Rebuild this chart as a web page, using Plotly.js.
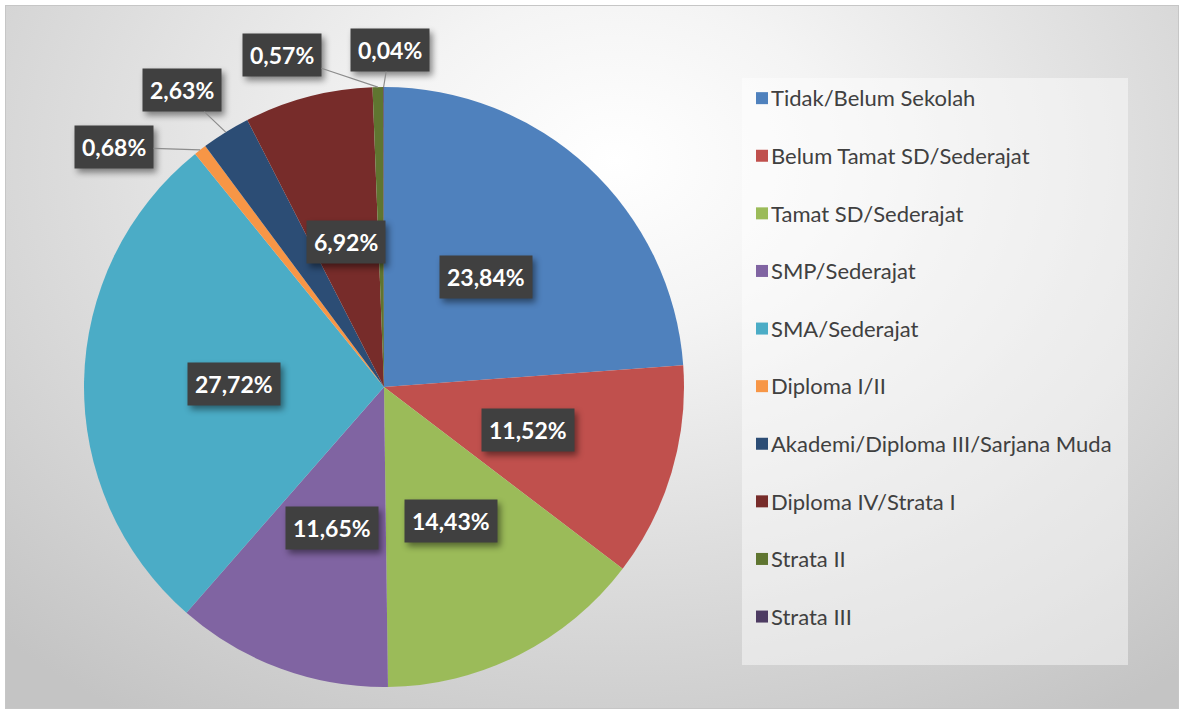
<!DOCTYPE html>
<html>
<head>
<meta charset="utf-8">
<script src="https://cdn.plot.ly/plotly-3.0.1.min.js"></script>
<style>
  body { margin: 0; background: #ffffff; }
  #wrap { position: relative; width: 1180px; height: 709px; overflow: hidden; background: #ffffff; }
  #bg {
    position: absolute; left: 5px; top: 5px; width: 1172px; height: 702px;
    border: 1px solid #c6c6c6;
    background: radial-gradient(ellipse 75% 95% at 52% 22%, #ffffff 0%, #f4f4f4 25%, #dcdcdc 62%, #c4c4c4 100%);
  }
  #chart { position: absolute; left: 0; top: 0; width: 1180px; height: 709px; }
  .annotation rect.bg { filter: drop-shadow(3px 4px 3px rgba(0,0,0,0.45)); }
  .legend .legendtext { transform: translateX(-11px); }
</style>
</head>
<body>
<div id="wrap"><div id="bg"></div><div id="chart"></div></div>
<script>
// ---- data ----
const categories = [
  "Tidak/Belum Sekolah",
  "Belum Tamat SD/Sederajat",
  "Tamat SD/Sederajat",
  "SMP/Sederajat",
  "SMA/Sederajat",
  "Diploma I/II",
  "Akademi/Diploma III/Sarjana Muda",
  "Diploma IV/Strata I",
  "Strata II",
  "Strata III"
];
const percentages = [23.84, 11.52, 14.43, 11.65, 27.72, 0.68, 2.63, 6.92, 0.57, 0.04];

// ---- styles ----
const sliceColors = ["#4F81BD", "#C0504D", "#9BBB59", "#8064A2", "#4BACC6",
                     "#F79646", "#2C4D75", "#772C2A", "#5F7530", "#4D3B62"];
// label box offsets (pixels) for small slices whose labels sit outside the pie
const outsideOffsets = { 5: [-86, -3], 6: [-44, -42], 8: [-96, -32], 9: [6, -37] };

const W = 1180, H = 709;
const CX = 384, CY = 387, R = 300;

const total = percentages.reduce((a, b) => a + b, 0);
const fmt = v => v.toFixed(2).replace('.', ',') + '%';

const annotations = [];
let cum = 0;
percentages.forEach((v, i) => {
  const mid = (cum + v / 2) / total * 2 * Math.PI;
  cum += v;
  const sx = Math.sin(mid), cy = Math.cos(mid);
  const base = {
    xref: 'paper', yref: 'paper',
    text: '<b>' + fmt(v) + '</b>',
    font: { family: 'Lato, sans-serif', size: 23, color: '#ffffff' },
    bgcolor: '#404040',
    borderpad: 7,
    xanchor: 'center', yanchor: 'middle'
  };
  if (outsideOffsets[i]) {
    annotations.push(Object.assign(base, {
      x: (CX + R * sx) / W, y: 1 - (CY - R * cy) / H,
      showarrow: true, arrowhead: 0, arrowwidth: 1.2, arrowcolor: '#8c8c8c', standoff: 0,
      ax: outsideOffsets[i][0], ay: outsideOffsets[i][1]
    }));
  } else {
    annotations.push(Object.assign(base, {
      x: (CX + 0.5 * R * sx) / W, y: 1 - (CY - 0.5 * R * cy) / H,
      showarrow: false
    }));
  }
});

const trace = {
  type: 'pie',
  labels: categories.map(c => '<span style="font-size:22px">' + c + '</span><br> '),
  values: percentages,
  sort: false,
  direction: 'clockwise',
  rotation: 0,
  textinfo: 'none',
  hoverinfo: 'label+percent',
  marker: { colors: sliceColors, line: { width: 0 } },
  domain: { x: [(CX - R) / W, (CX + R) / W], y: [1 - (CY + R) / H, 1 - (CY - R) / H] }
};

const layout = {
  width: W, height: H,
  margin: { l: 0, r: 0, t: 0, b: 0 },
  paper_bgcolor: 'rgba(0,0,0,0)',
  plot_bgcolor: 'rgba(0,0,0,0)',
  showlegend: true,
  legend: {
    x: 742 / W, y: 1 - 78 / H, xanchor: 'left', yanchor: 'top',
    bgcolor: 'rgba(255,255,255,0.45)', borderwidth: 0,
    font: { family: 'Lato, sans-serif', size: 21, color: '#404040' },
    valign: 'top'
  },
  annotations: annotations
};

Plotly.newPlot('chart', [trace], layout, { displayModeBar: false, staticPlot: true });
</script>
</body>
</html>
